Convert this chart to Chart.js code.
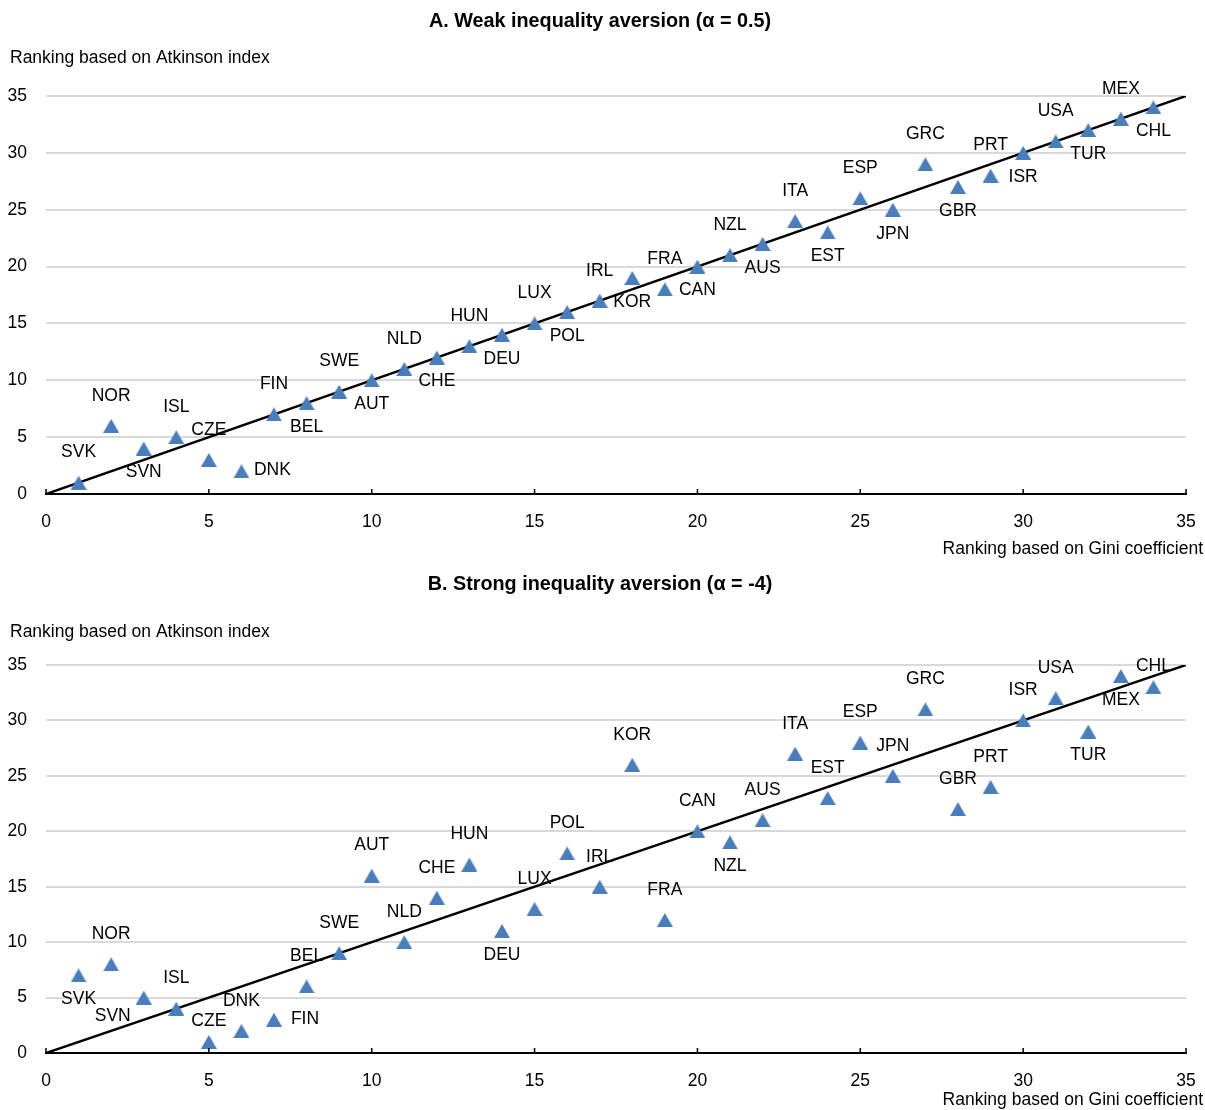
<!DOCTYPE html>
<html>
<head>
<meta charset="utf-8">
<script src="https://cdn.jsdelivr.net/npm/chart.js@4.4.1/dist/chart.umd.min.js"></script>
<style>
  body { margin: 0; background: #fff; }
  canvas { display: block; }
</style>
</head>
<body>
<canvas id="panelA" width="1205" height="563"></canvas>
<canvas id="panelB" width="1205" height="547"></canvas>
<script>
// Countries ordered by their Gini ranking
const countries = ['SVK', 'NOR', 'SVN', 'ISL', 'CZE', 'DNK', 'FIN', 'BEL', 'SWE', 'AUT', 'NLD', 'CHE',
    'HUN', 'DEU', 'LUX', 'POL', 'IRL', 'KOR', 'FRA', 'CAN', 'NZL', 'AUS', 'ITA', 'EST', 'ESP', 'JPN',
    'GRC', 'GBR', 'PRT', 'ISR', 'USA', 'TUR', 'MEX', 'CHL'];
const giniRank = [1, 2, 3, 4, 5, 6, 7, 8, 9, 10, 11, 12, 13, 14, 15, 16, 17, 18, 19, 20, 21, 22, 23, 24,
    25, 26, 27, 28, 29, 30, 31, 32, 33, 34];
const atkinsonWeak = [1, 6, 4, 5, 3, 2, 7, 8, 9, 10, 11, 12, 13, 14, 15, 16, 17, 19, 18, 20, 21, 22, 24, 23,
    26, 25, 29, 27, 28, 30, 31, 32, 33, 34];
const atkinsonStrong = [7, 8, 5, 4, 1, 2, 3, 6, 9, 16, 10, 14, 17, 11, 13, 18, 15, 26, 12, 20, 19, 21, 27, 23,
    28, 25, 31, 22, 24, 30, 32, 29, 34, 33];
const diagonal = [0, 35];

// where each country label sits relative to its marker
const placeWeak = ['a', 'a', 'b', 'a', 'a', 'r', 'a', 'b', 'a', 'b', 'a', 'b', 'a', 'b', 'a', 'b', 'a', 'b',
    'a', 'b', 'a', 'b', 'a', 'b', 'a', 'b', 'a', 'b', 'a', 'b', 'a', 'b', 'a', 'b'];
const placeStrong = ['b', 'a', 'bl', 'a', 'ac', 'a', 'r', 'a', 'a', 'a', 'a', 'a', 'a', 'b', 'a', 'a', 'a', 'a',
    'a', 'a', 'b', 'a', 'a', 'a', 'a', 'a', 'a', 'a', 'a', 'a', 'a', 'b', 'b', 'ac'];
const labelOffsets = {
    a: [0, -30],
    b: [0, 24],
    r: [31, -1],
    bl: [-31, 19],
    ac: [0, -21]
};

const FONT = '"Liberation Sans", Arial, sans-serif';
const BLUE = '#4a7ebb';
Chart.defaults.font.family = FONT;
Chart.defaults.font.size = 17.5;
Chart.defaults.color = '#000';

// triangle marker centred on its bounding box, like the original
function makeTriangle(w, h, color) {
    const c = document.createElement('canvas');
    c.width = w;
    c.height = h;
    const g = c.getContext('2d');
    g.fillStyle = color;
    g.beginPath();
    g.moveTo(w / 2, 0);
    g.lineTo(w, h);
    g.lineTo(0, h);
    g.closePath();
    g.fill();
    return c;
}
const triangle = makeTriangle(16, 14, BLUE);

const panelDecor = {
    id: 'panelDecor',
    afterDatasetsDraw(chart, args, opts) {
        const { ctx, chartArea } = chart;
        const x = chart.scales.x;
        ctx.save();

        // small inside tick marks on the x axis
        ctx.strokeStyle = '#000';
        ctx.lineWidth = 1.5;
        x.ticks.forEach(t => {
            const px = x.getPixelForValue(t.value);
            ctx.beginPath();
            ctx.moveTo(px, chartArea.bottom);
            ctx.lineTo(px, chartArea.bottom - 5);
            ctx.stroke();
        });

        // country labels
        ctx.fillStyle = '#000';
        ctx.font = '17.5px ' + FONT;
        ctx.textAlign = 'center';
        ctx.textBaseline = 'middle';
        chart.getDatasetMeta(1).data.forEach((pt, i) => {
            const off = labelOffsets[opts.placement[i]];
            ctx.fillText(countries[i], pt.x + off[0], pt.y + off[1]);
        });

        ctx.font = 'bold 19.8px ' + FONT;
        ctx.fillText(opts.title, 600, 22);

        ctx.font = '17.5px ' + FONT;
        ctx.textAlign = 'left';
        ctx.fillText('Ranking based on Atkinson index', 10, opts.yCaptionY);
        ctx.textAlign = 'right';
        ctx.fillText('Ranking based on Gini coefficient', 1203, opts.xCaptionY);
        ctx.restore();
    }
};

function createPanel(canvasId, atkinson, placement, title, layout) {
    const points = giniRank.map((g, i) => ({ x: g, y: atkinson[i] }));
    const ctx = document.getElementById(canvasId).getContext('2d');
    new Chart(ctx, {
        type: 'scatter',
        data: {
            datasets: [{
                type: 'line',
                data: diagonal.map(v => ({ x: v, y: v })),
                borderColor: '#000',
                borderWidth: 2.5,
                pointRadius: 0,
                order: 2
            }, {
                data: points,
                pointStyle: triangle,
                pointRadius: 8,
                backgroundColor: BLUE,
                borderWidth: 0,
                order: 1
            }]
        },
        options: {
            responsive: false,
            animation: false,
            layout: {
                padding: { left: 0, right: 19, top: layout.top, bottom: layout.bottom }
            },
            plugins: {
                legend: { display: false },
                tooltip: { enabled: false },
                panelDecor: {
                    placement,
                    title,
                    yCaptionY: layout.yCaptionY,
                    xCaptionY: layout.xCaptionY
                }
            },
            scales: {
                x: {
                    type: 'linear',
                    min: 0,
                    max: 35,
                    afterFit: s => { s.height = 40; },
                    ticks: { stepSize: 5, padding: 5 },
                    // invisible tick marks only push the labels down
                    grid: { drawOnChartArea: false, drawTicks: true, tickLength: 13, color: 'rgba(0,0,0,0)' },
                    border: { display: true, color: '#000', width: 2 }
                },
                y: {
                    type: 'linear',
                    min: 0,
                    max: 35,
                    afterFit: s => { s.width = 46; },
                    ticks: { stepSize: 5, padding: 19 },
                    grid: { color: '#d9d9d9', lineWidth: 2, drawTicks: false },
                    border: { display: false }
                }
            }
        },
        plugins: [panelDecor]
    });
}

createPanel('panelA', atkinsonWeak, placeWeak, 'A. Weak inequality aversion (\u03b1 = 0.5)',
    { top: 96, bottom: 29, yCaptionY: 58, xCaptionY: 549 });
createPanel('panelB', atkinsonStrong, placeStrong, 'B. Strong inequality aversion (\u03b1 = -4)',
    { top: 102, bottom: 17, yCaptionY: 69, xCaptionY: 537 });
</script>
</body>
</html>
